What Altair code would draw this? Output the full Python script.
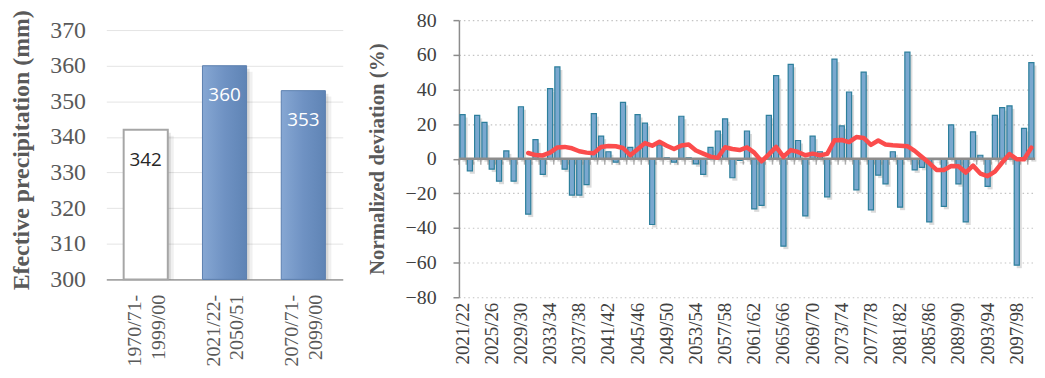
import altair as alt
import pandas as pd

# ---------------- left panel data ----------------
periods = ["1970/71-1999/00", "2021/22-2050/51", "2070/71-2099/00"]
precip = [342, 360, 353]
period_kind = ["baseline", "future", "future"]
precip_ticks = [300, 310, 320, 330, 340, 350, 360, 370]

# ---------------- right panel data ----------------
years = [f"{y}/{str(y + 1)[-2:]}" for y in range(2021, 2100)]
deviation = [
    25.5, -7, 25, 21, -6, -13, 4.5, -13, 30, -32,
    11, -9, 40.5, 53, -6, -21, -21, -15, 26, 13,
    4, -2, 32.5, 6.5, 25.5, 20.5, -38, 8, 0.5, -2,
    24.5, 0.5, -3, -9, 6.5, 16, 23, -11, -1, 16,
    -29, -27, 25, 48, -50.5, 54.5, 10.5, -33, 13, 4,
    -22, 57.5, 19, 38.5, -18, 50, -29.5, -9.5, -14.5, 4,
    -28, 61.5, -6.5, -5, -36.5, -0.5, -27.5, 19.5, -14.5, -36.5,
    15.5, 2, -16, 25, 29.5, 30.5, -61.5, 17.5, 55.5,
]
ma_years = years[9:]
moving_avg = [
    3.3, 2.1, 1.9, 3.5, 6.5, 6.8, 6.0, 4.3, 3.5, 3.2,
    6.8, 7.3, 7.2, 6.2, 2.0, 5.5, 9.0, 7.5, 9.8, 7.5,
    5.6, 7.6, 8.2, 4.7, 2.9, 1.2, 0.5, 6.6, 5.6, 5.0,
    6.5, 3.5, -1.5, 2.5, 6.8, 1.2, 5.0, 3.9, 2.0, 2.9,
    2.0, 2.8, 10.6, 10.8, 9.6, 12.5, 12.0, 8.0, 10.5, 8.2,
    7.8, 7.5, 7.2, 4.5, 1.0, -2.5, -6.5, -6.5, -4.2, -4.4,
    -8.0, -4.0, -8.6, -10.1, -7.5, -2.2, 2.7, -0.3, -0.3, 6.4,
]
dev_ticks = [-80, -60, -40, -20, 0, 20, 40, 60, 80]
year_labels = years[::4]

SERIF = "Liberation Serif"
GREY = "#595959"
DARK = "#404040"
AXISGREY = "#8c8c8c"

# ================= LEFT PANEL =================
left_df = pd.DataFrame({"period": periods, "precip": precip, "kind": period_kind})

lx_axis = alt.Axis(
    title=None,
    labelExpr="[slice(datum.value, 0, 8), slice(datum.value, 8)]",
    labelAngle=270,
    labelAlign="right",
    labelBaseline="middle",
    labelPadding=15,
    labelOffset=-11,
    labelFont=SERIF,
    labelFontSize=20,
    labelLineHeight=24,
    labelColor=GREY,
    ticks=False,
    domainColor="#a6a6a6",
    domainWidth=2,
)
lx = alt.X("period:N", sort=periods,
           scale=alt.Scale(paddingInner=0.44, paddingOuter=0.22), axis=lx_axis)
lscale = alt.Scale(domain=[300, 372.8], nice=False, zero=False)
ly_axis = alt.Axis(
    values=precip_ticks,
    title="Efective precipitation (mm)",
    titleFont=SERIF,
    titleFontSize=24,
    titleFontWeight="bold",
    titleColor=GREY,
    titlePadding=16,
    labelFont=SERIF,
    labelFontSize=24,
    labelColor=GREY,
    labelPadding=21,
    ticks=False,
    domain=False,
    grid=True,
    gridColor="#e4e4e4",
    gridWidth=1,
)
ly = alt.Y("precip:Q", scale=lscale, axis=ly_axis)
ly2 = alt.Y2(datum=300)

left_base = alt.Chart(left_df)
left_shadow2 = left_base.mark_bar(color="#000000", opacity=0.06, xOffset=6, yOffset=6).encode(
    x=lx, y=ly, y2=ly2
)
left_shadow1 = left_base.mark_bar(color="#000000", opacity=0.10, xOffset=3, yOffset=3).encode(
    x=lx, y=ly, y2=ly2
)
left_white = left_base.transform_filter(alt.datum.kind == "baseline").mark_bar(
    fill="#ffffff", stroke="#a6a6a6", strokeWidth=2
).encode(x=lx, y=ly, y2=ly2)
left_blue = left_base.transform_filter(alt.datum.kind == "future").mark_bar(
    fill=alt.Gradient(
        gradient="linear",
        stops=[
            alt.GradientStop(color="#86a7d3", offset=0),
            alt.GradientStop(color="#6f92c3", offset=0.5),
            alt.GradientStop(color="#5f84b5", offset=1),
        ],
        x1=0, x2=1, y1=0, y2=0,
    ),
    stroke="#5b7fae",
    strokeWidth=1,
).encode(x=lx, y=ly, y2=ly2)
left_text = left_base.mark_text(
    dy=30, font="Open Sans", fontSize=19, baseline="middle"
).encode(
    x=lx,
    y=ly,
    text=alt.Text("precip:Q"),
    color=alt.Color(
        "kind:N",
        scale=alt.Scale(domain=["baseline", "future"], range=["#262626", "#ffffff"]),
        legend=None,
    ),
)
left = alt.layer(left_shadow2, left_shadow1, left_white, left_blue, left_text).properties(
    width=238, height=261
)

# ================= RIGHT PANEL =================
dev_df = pd.DataFrame({"year": years, "dev": deviation})
ma_df = pd.DataFrame({"year": ma_years, "dev": moving_avg})
zero_df = pd.DataFrame({"year": [years[0]], "dev": [0]})

xscale = alt.Scale(domain=years, paddingInner=0.3, paddingOuter=0.15)
yscale = alt.Scale(domain=[-80, 80], nice=False)

rx_axis = alt.Axis(
    values=year_labels,
    title=None,
    labelAngle=270,
    labelAlign="right",
    labelBaseline="middle",
    labelPadding=5,
    labelFont=SERIF,
    labelFontSize=19,
    labelColor=DARK,
    labelOverlap=False,
    domain=False,
    ticks=False,
)
ry_axis = alt.Axis(
    values=dev_ticks,
    title="Normalized deviation (%)",
    titleFont=SERIF,
    titleFontSize=21,
    titleFontWeight="bold",
    titleColor=GREY,
    titlePadding=18,
    labelFont=SERIF,
    labelFontSize=20,
    labelColor=DARK,
    labelPadding=17,
    domain=True,
    domainColor=AXISGREY,
    domainWidth=1.5,
    ticks=True,
    tickSize=6,
    tickColor=AXISGREY,
    tickWidth=1.5,
    grid=True,
    gridColor="#c4c4c4",
    gridDash=[1.5, 3],
    gridWidth=1.2,
)
rx = alt.X("year:N", scale=xscale, sort=None, axis=rx_axis)
ry = alt.Y("dev:Q", scale=yscale, axis=ry_axis)

r_shadow = alt.Chart(dev_df).mark_bar(
    color="#000000", opacity=0.14, xOffset=2.5, yOffset=3, y2Offset=3
).encode(x=rx, y=ry)
r_bars = alt.Chart(dev_df).mark_bar(
    fill="#7aa8cf", stroke="#2d7f9c", strokeWidth=1.2
).encode(x=rx, y=ry)
r_zero = alt.Chart(zero_df).mark_rule(color=AXISGREY, strokeWidth=2.5).encode(y=ry)
r_ticks = alt.Chart(dev_df).transform_calculate(zero="0").mark_tick(
    orient="vertical", size=6, thickness=1.5, color=AXISGREY, xOffset=-3.67, yOffset=3
).encode(x=rx, y=alt.Y("zero:Q", scale=yscale, axis=ry_axis))
r_line = alt.Chart(ma_df).mark_line(
    color="#fb4c4c", strokeWidth=4.5, strokeCap="round", strokeJoin="round"
).encode(x=rx, y=ry)

right = alt.layer(r_shadow, r_bars, r_zero, r_ticks, r_line).properties(width=580, height=279)

chart = (
    alt.hconcat(left, right, spacing=23)
    .properties(padding={"left": 1, "top": 0, "right": 0, "bottom": 0})
    .configure_view(stroke=None)
)
chart.save("out.html", embed_options={"renderer": "svg", "actions": False})
